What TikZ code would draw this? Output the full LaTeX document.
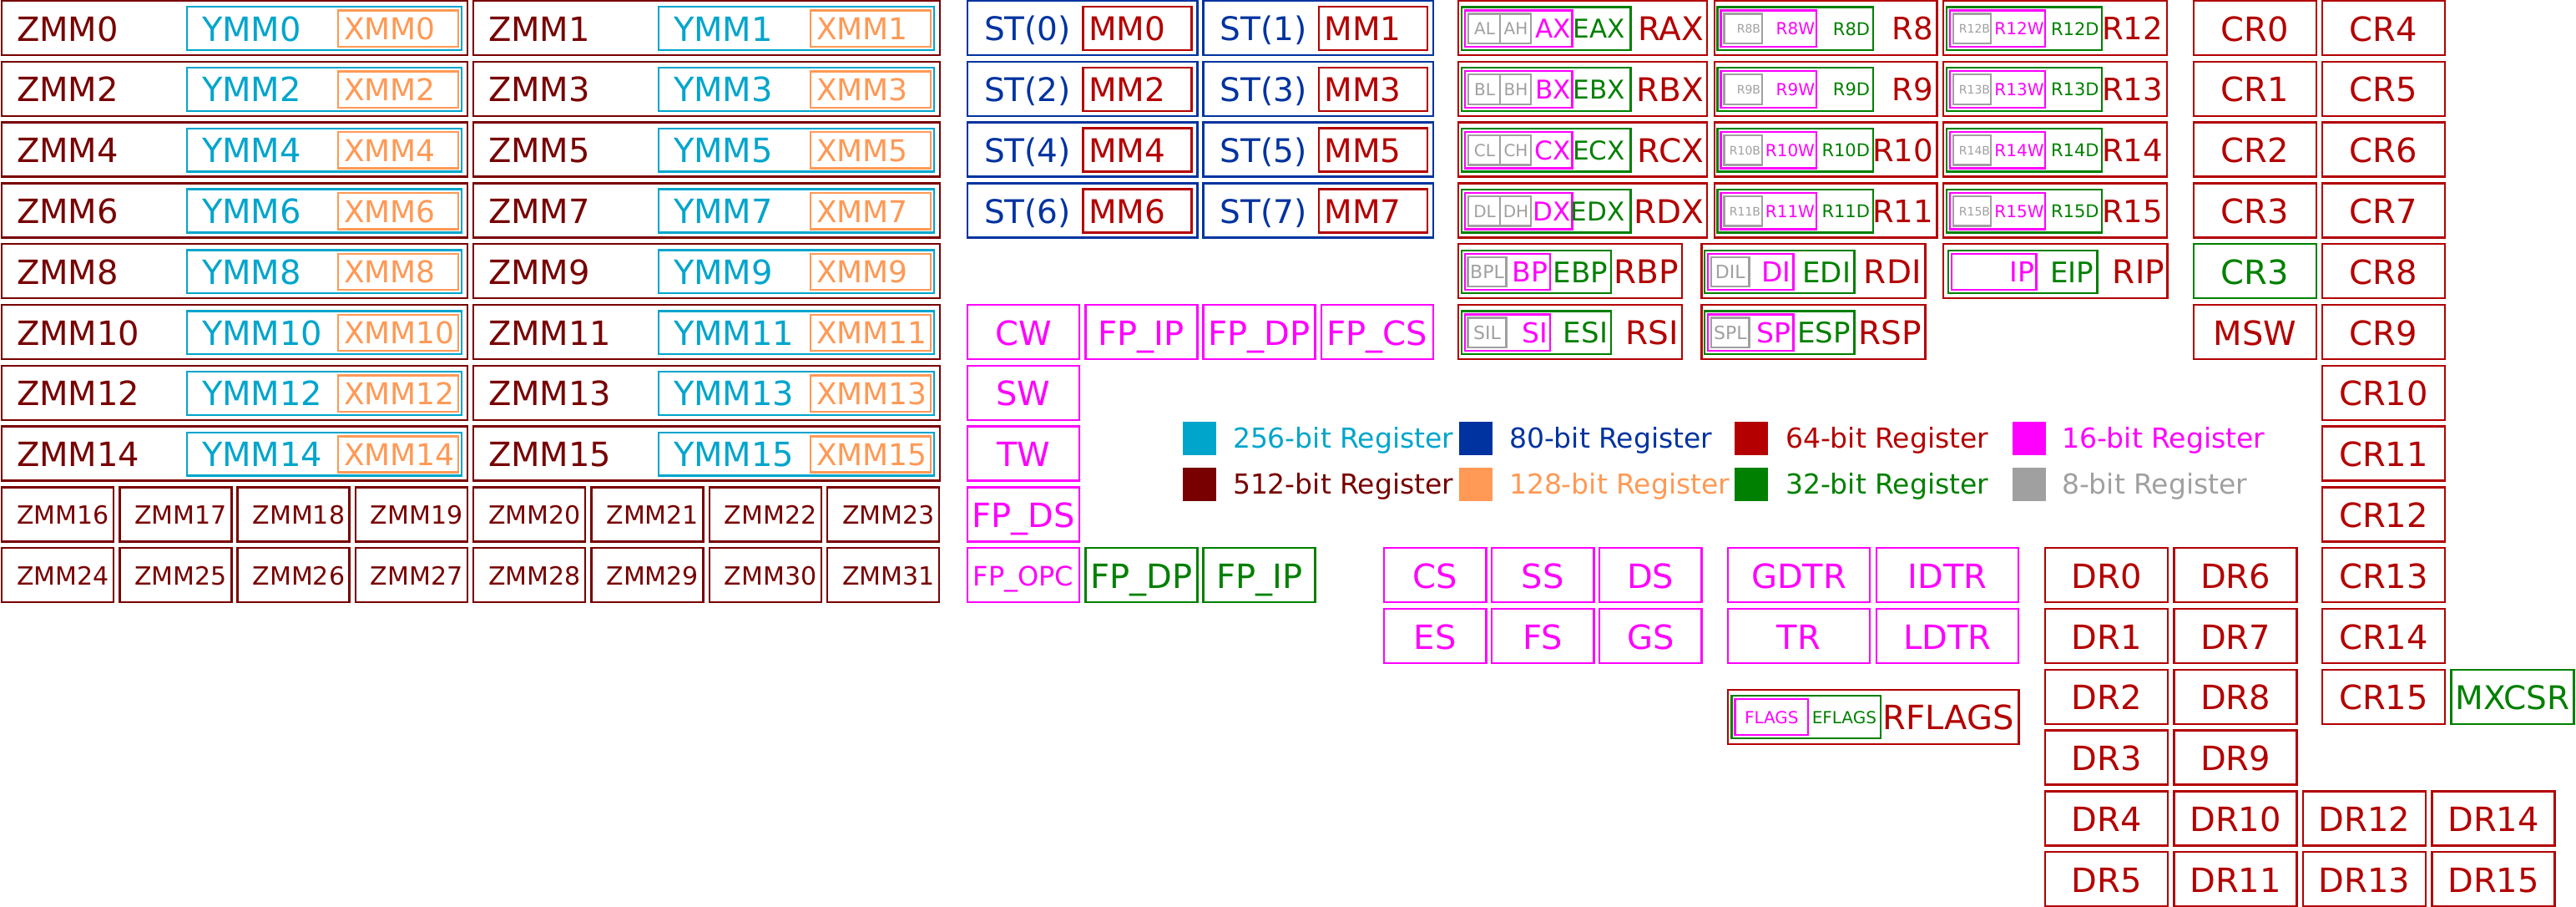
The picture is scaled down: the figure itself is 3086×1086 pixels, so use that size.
\documentclass[tikz,border=0pt]{standalone}
\usepackage{fontspec}
\setmainfont{DejaVu Sans}
\definecolor{cZ}{RGB}{120,0,0}
\definecolor{cY}{RGB}{0,165,204}
\definecolor{cX}{RGB}{255,153,85}
\definecolor{cST}{RGB}{0,51,160}
\definecolor{cR}{RGB}{180,0,0}
\definecolor{cE}{RGB}{0,128,0}
\definecolor{cW}{RGB}{255,0,255}
\definecolor{cB}{RGB}{160,160,160}
\tikzset{
  bx/.style={draw=#1, line width=2.4pt, inner sep=0pt, outer sep=0pt, anchor=north west},
  tx/.style={font=\fontsize{#1}{#1}\selectfont, inner sep=0pt, outer sep=0pt},
  sq/.style={fill=#1, draw=none, minimum size=40pt, inner sep=0pt, anchor=north west},
}
% \rbox{name}{color}{x1}{y1}{x2}{y2}
\newcommand\rbox[6]{\node[bx=#2, minimum width={(#5)-(#3)}, minimum height={(#6)-(#4)}] (#1) at ({#3},{#4}) {};}
% \rtxt{name}{color}{size}{anchor}{x}{ycenter}{text}
\newcommand\rtxt[7]{\node[tx=#3, text=#2, anchor=#4] (#1) at ({#5},{(#6)+0.3645*#3}) {#7};}
% \creg{name}{color}{x1}{row}{width}{size}{text}  simple centred register
\newcommand\creg[7]{%
  \pgfmathsetmacro\cty{1+72.8*#4}%
  \rbox{#1}{#2}{#3}{\cty}{(#3)+(#5)}{\cty+65}%
  \rtxt{#1t}{#2}{#6}{base}{(#3)+(#5)/2}{\cty+33.5}{#7}}
\begin{document}
\begin{tikzpicture}[x=1pt,y=-1pt]
\useasboundingbox (0,0) rectangle (3086,1086);

% ---------------- ZMM / YMM / XMM 0-15
\foreach \r in {0,...,7}{
  \pgfmathsetmacro\ty{1+72.8*\r}
  \pgfmathtruncatemacro\za{2*\r}
  \pgfmathtruncatemacro\zb{2*\r+1}
  \rbox{zmm\za}{cZ}{2}{\ty}{560}{\ty+65}
  \rbox{ymm\za}{cY}{224}{\ty+7.3}{553}{\ty+59}
  \rbox{xmm\za}{cX}{405}{\ty+11.7}{549}{\ty+55}
  \rtxt{zmmt\za}{cZ}{40}{base west}{20}{\ty+33.5}{ZMM\za}
  \rtxt{ymmt\za}{cY}{40}{base west}{242}{\ty+33.5}{YMM\za}
  \rtxt{xmmt\za}{cX}{36}{base west}{412}{\ty+33.5}{XMM\za}
  \rbox{zmm\zb}{cZ}{567.2}{\ty}{1126}{\ty+65}
  \rbox{ymm\zb}{cY}{789.2}{\ty+7.3}{1119}{\ty+59}
  \rbox{xmm\zb}{cX}{971}{\ty+11.7}{1115}{\ty+55}
  \rtxt{zmmt\zb}{cZ}{40}{base west}{585}{\ty+33.5}{ZMM\zb}
  \rtxt{ymmt\zb}{cY}{40}{base west}{807}{\ty+33.5}{YMM\zb}
  \rtxt{xmmt\zb}{cX}{36}{base west}{978}{\ty+33.5}{XMM\zb}
}
% ---------------- ZMM 16-31
\foreach \k in {0,...,7}{
  \pgfmathsetmacro\bxl{2+141.3*\k}
  \pgfmathtruncatemacro\za{16+\k}
  \pgfmathtruncatemacro\zb{24+\k}
  \rbox{zmm\za}{cZ}{\bxl}{583.4}{\bxl+134}{648.4}
  \rtxt{zmmt\za}{cZ}{30}{base west}{\bxl+18}{616.9}{ZMM\za}
  \rbox{zmm\zb}{cZ}{\bxl}{656.2}{\bxl+134}{721.2}
  \rtxt{zmmt\zb}{cZ}{30}{base west}{\bxl+18}{689.7}{ZMM\zb}
}

% ---------------- ST / MM
\foreach \r in {0,...,3}{
  \pgfmathsetmacro\ty{1+72.8*\r}
  \pgfmathtruncatemacro\sa{2*\r}
  \pgfmathtruncatemacro\sb{2*\r+1}
  \rbox{st\sa}{cST}{1159}{\ty}{1434.3}{\ty+65}
  \rbox{mm\sa}{cR}{1297.5}{\ty+7}{1427.5}{\ty+59}
  \rtxt{stt\sa}{cST}{39}{base west}{1179}{\ty+33.5}{ST(\sa)}
  \rtxt{mmt\sa}{cR}{39}{base west}{1304}{\ty+33.5}{MM\sa}
  \rbox{st\sb}{cST}{1441.6}{\ty}{1716.9}{\ty+65}
  \rbox{mm\sb}{cR}{1580}{\ty+7}{1710}{\ty+59}
  \rtxt{stt\sb}{cST}{39}{base west}{1461.6}{\ty+33.5}{ST(\sb)}
  \rtxt{mmt\sb}{cR}{39}{base west}{1586.5}{\ty+33.5}{MM\sb}
}

% ---------------- FPU control
\creg{cw}{cW}{1159}{5}{134}{40}{CW}
\creg{fpip}{cW}{1300.3}{5}{134}{40}{FP\_IP}
\creg{fpdp}{cW}{1441.6}{5}{134}{40}{FP\_DP}
\creg{fpcs}{cW}{1582.9}{5}{134}{40}{FP\_CS}
\creg{sw}{cW}{1159}{6}{134}{40}{SW}
\creg{tw}{cW}{1159}{7}{134}{40}{TW}
\creg{fpds}{cW}{1159}{8}{134}{40}{FP\_DS}
\creg{fpopc}{cW}{1159}{9}{134}{32}{FP\_OPC}
\creg{fpdpe}{cE}{1300.3}{9}{134}{40}{FP\_DP}
\creg{fpipe}{cE}{1441.6}{9}{134}{40}{FP\_IP}

% ---------------- legend
\node[sq=cY] (lg1) at (1417,505) {};
\node[sq=cST] (lg2) at (1748,505) {};
\node[sq=cR] (lg3) at (2078,505) {};
\node[sq=cW] (lg4) at (2411,505) {};
\node[sq=cZ] (lg5) at (1417,560) {};
\node[sq=cX] (lg6) at (1748,560) {};
\node[sq=cE] (lg7) at (2078,560) {};
\node[sq=cB] (lg8) at (2411,560) {};
\rtxt{lgt1}{cY}{33}{base west}{1477}{524}{256-bit Register}
\rtxt{lgt2}{cST}{33}{base west}{1808}{524}{80-bit Register}
\rtxt{lgt3}{cR}{33}{base west}{2139}{524}{64-bit Register}
\rtxt{lgt4}{cW}{33}{base west}{2470}{524}{16-bit Register}
\rtxt{lgt5}{cZ}{33}{base west}{1477}{579}{512-bit Register}
\rtxt{lgt6}{cX}{33}{base west}{1808}{579}{128-bit Register}
\rtxt{lgt7}{cE}{33}{base west}{2139}{579}{32-bit Register}
\rtxt{lgt8}{cB}{33}{base west}{2470}{579}{8-bit Register}

% ---------------- segment / table registers
\creg{cs}{cW}{1658}{9}{122.5}{40}{CS}
\creg{ss}{cW}{1787}{9}{122.5}{40}{SS}
\creg{ds}{cW}{1916}{9}{122.5}{40}{DS}
\creg{es}{cW}{1658}{10}{122.5}{40}{ES}
\creg{fs}{cW}{1787}{10}{122.5}{40}{FS}
\creg{gs}{cW}{1916}{10}{122.5}{40}{GS}
\creg{gdtr}{cW}{2070}{9}{170}{40}{GDTR}
\creg{idtr}{cW}{2248}{9}{170}{40}{IDTR}
\creg{tr}{cW}{2070}{10}{170}{40}{TR}
\creg{ldtr}{cW}{2248}{10}{170}{40}{LDTR}

% ---------------- RFLAGS
\rbox{rflags}{cR}{2070}{825.7}{2418.5}{890.7}
\rbox{eflags}{cE}{2074.5}{833}{2253}{884}
\rbox{flags}{cW}{2078.6}{836.7}{2166}{880}
\rtxt{flagst}{cW}{20}{base}{2122.3}{859}{FLAGS}
\rtxt{eflagst}{cE}{20}{base east}{2248}{859}{EFLAGS}
\rtxt{rflagst}{cR}{40}{base east}{2413}{859}{RFLAGS}

% ---------------- RAX..RDX
\foreach \r/\l/\L in {0/a/A,1/b/B,2/c/C,3/d/D}{
  \pgfmathsetmacro\ty{1+72.8*\r}
  \rbox{r\l x}{cR}{1746.7}{\ty}{2045}{\ty+65}
  \rbox{e\l x}{cE}{1751.2}{\ty+7.5}{1953.4}{\ty+59}
  \rbox{\l x}{cW}{1755}{\ty+11.5}{1883.4}{\ty+55}
  \rbox{\l l}{cB}{1759}{\ty+15.5}{1797}{\ty+51}
  \rbox{\l h}{cB}{1797}{\ty+15.5}{1834}{\ty+51}
  \rtxt{\l lt}{cB}{20}{base}{1778.5}{\ty+33.5}{\L L}
  \rtxt{\l ht}{cB}{20}{base}{1816}{\ty+33.5}{\L H}
  \rtxt{\l xt}{cW}{31}{base east}{1881.5}{\ty+33.5}{\L X}
  \rtxt{e\l xt}{cE}{31}{base east}{1946.5}{\ty+33.5}{E\L X}
  \rtxt{r\l xt}{cR}{39}{base east}{2041}{\ty+33.5}{R\L X}
}
% ---------------- R8..R15
\foreach \r/\n/\m in {0/8/12,1/9/13,2/10/14,3/11/15}{
  \pgfmathsetmacro\ty{1+72.8*\r}
  \rbox{r\n}{cR}{2053.7}{\ty}{2320.4}{\ty+65}
  \rbox{r\n d}{cE}{2057.6}{\ty+7.5}{2244}{\ty+59}
  \rbox{r\n w}{cW}{2061.6}{\ty+11.5}{2176}{\ty+55}
  \rbox{r\n b}{cB}{2065.5}{\ty+15.5}{2111}{\ty+51}
  \rtxt{r\n bt}{cB}{14}{base east}{2109}{\ty+33.5}{R\n B}
  \rtxt{r\n wt}{cW}{20}{base east}{2174}{\ty+33.5}{R\n W}
  \rtxt{r\n dt}{cE}{21}{base east}{2240}{\ty+33.5}{R\n D}
  \rtxt{r\n t}{cR}{37}{base east}{2316}{\ty+33.5}{R\n}
  \rbox{r\m}{cR}{2327.7}{\ty}{2596}{\ty+65}
  \rbox{r\m d}{cE}{2332}{\ty+7.5}{2518}{\ty+59}
  \rbox{r\m w}{cW}{2336}{\ty+11.5}{2449.8}{\ty+55}
  \rbox{r\m b}{cB}{2340}{\ty+15.5}{2384.8}{\ty+51}
  \rtxt{r\m bt}{cB}{14}{base east}{2384}{\ty+33.5}{R\m B}
  \rtxt{r\m wt}{cW}{20}{base east}{2448.5}{\ty+33.5}{R\m W}
  \rtxt{r\m dt}{cE}{21}{base east}{2514.5}{\ty+33.5}{R\m D}
  \rtxt{r\m t}{cR}{37}{base east}{2591}{\ty+33.5}{R\m}
}
% ---------------- RBP RSI RDI RSP RIP
\foreach \r/\p/\q/\ux/\uy in {4/bp/BP/di/DI,5/si/SI/sp/SP}{
  \pgfmathsetmacro\ty{1+72.8*\r}
  \rbox{r\p}{cR}{1746.7}{\ty}{2014.7}{\ty+65}
  \rbox{e\p}{cE}{1751.2}{\ty+7.5}{1930}{\ty+59}
  \rbox{\p}{cW}{1755.2}{\ty+11.5}{1857}{\ty+55}
  \rbox{\p l}{cB}{1758.5}{\ty+15.5}{1804.6}{\ty+51}
  \rtxt{\p lt}{cB}{22}{base}{1781.5}{\ty+33.5}{\q L}
  \rtxt{\p t}{cW}{33}{base east}{1854}{\ty+33.5}{\q}
  \rtxt{e\p t}{cE}{34}{base east}{1926}{\ty+33.5}{E\q}
  \rtxt{r\p t}{cR}{39}{base east}{2011}{\ty+33.5}{R\q}
  \rbox{r\ux}{cR}{2038.3}{\ty}{2306.3}{\ty+65}
  \rbox{e\ux}{cE}{2042}{\ty+7.5}{2221.5}{\ty+59}
  \rbox{\ux}{cW}{2046}{\ty+11.5}{2148.4}{\ty+55}
  \rbox{\ux l}{cB}{2050}{\ty+15.5}{2095.6}{\ty+51}
  \rtxt{\ux lt}{cB}{22}{base}{2072.8}{\ty+33.5}{\uy L}
  \rtxt{\ux t}{cW}{33}{base east}{2145.5}{\ty+33.5}{\uy}
  \rtxt{e\ux t}{cE}{34}{base east}{2217}{\ty+33.5}{E\uy}
  \rtxt{r\ux t}{cR}{39}{base east}{2301.5}{\ty+33.5}{R\uy}
}
\rbox{rip}{cR}{2328}{292.2}{2596.5}{357.2}
\rbox{eip}{cE}{2333.8}{299.7}{2512.5}{351.2}
\rbox{ip}{cW}{2337.8}{303.7}{2439.4}{347.2}
\rtxt{ipt}{cW}{33}{base east}{2437.5}{325.7}{IP}
\rtxt{eipt}{cE}{34}{base east}{2508}{325.7}{EIP}
\rtxt{ript}{cR}{39}{base east}{2593}{325.7}{RIP}

% ---------------- control registers
\creg{cr0}{cR}{2628}{0}{147}{40}{CR0}
\creg{cr1}{cR}{2628}{1}{147}{40}{CR1}
\creg{cr2}{cR}{2628}{2}{147}{40}{CR2}
\creg{cr3}{cR}{2628}{3}{147}{40}{CR3}
\creg{cr3e}{cE}{2628}{4}{147}{40}{CR3}
\creg{msw}{cR}{2628}{5}{147}{40}{MSW}
\creg{cr4}{cR}{2782}{0}{147}{40}{CR4}
\creg{cr5}{cR}{2782}{1}{147}{40}{CR5}
\creg{cr6}{cR}{2782}{2}{147}{40}{CR6}
\creg{cr7}{cR}{2782}{3}{147}{40}{CR7}
\creg{cr8}{cR}{2782}{4}{147}{40}{CR8}
\creg{cr9}{cR}{2782}{5}{147}{40}{CR9}
\creg{cr10}{cR}{2782}{6}{147}{40}{CR10}
\creg{cr11}{cR}{2782}{7}{147}{40}{CR11}
\creg{cr12}{cR}{2782}{8}{147}{40}{CR12}
\creg{cr13}{cR}{2782}{9}{147}{40}{CR13}
\creg{cr14}{cR}{2782}{10}{147}{40}{CR14}
\creg{cr15}{cR}{2782}{11}{147}{40}{CR15}
\creg{mxcsr}{cE}{2936.5}{11}{147}{39}{MXCSR}

% ---------------- debug registers
\creg{dr0}{cR}{2450}{9}{147}{40}{DR0}
\creg{dr1}{cR}{2450}{10}{147}{40}{DR1}
\creg{dr2}{cR}{2450}{11}{147}{40}{DR2}
\creg{dr3}{cR}{2450}{12}{147}{40}{DR3}
\creg{dr4}{cR}{2450}{13}{147}{40}{DR4}
\creg{dr5}{cR}{2450}{14}{147}{40}{DR5}
\creg{dr6}{cR}{2604.5}{9}{147}{40}{DR6}
\creg{dr7}{cR}{2604.5}{10}{147}{40}{DR7}
\creg{dr8}{cR}{2604.5}{11}{147}{40}{DR8}
\creg{dr9}{cR}{2604.5}{12}{147}{40}{DR9}
\creg{dr10}{cR}{2604.5}{13}{147}{40}{DR10}
\creg{dr11}{cR}{2604.5}{14}{147}{40}{DR11}
\creg{dr12}{cR}{2759}{13}{147}{40}{DR12}
\creg{dr13}{cR}{2759}{14}{147}{40}{DR13}
\creg{dr14}{cR}{2913.5}{13}{147}{40}{DR14}
\creg{dr15}{cR}{2913.5}{14}{147}{40}{DR15}
\end{tikzpicture}
\end{document}
